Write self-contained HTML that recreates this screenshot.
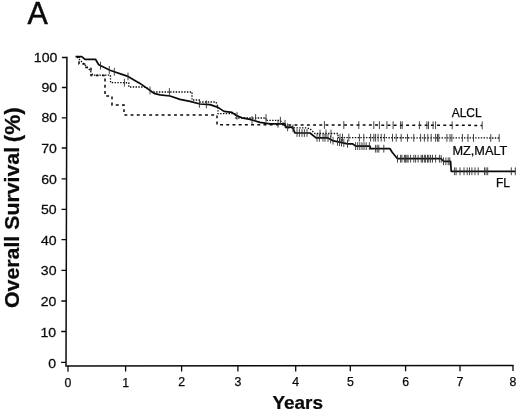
<!DOCTYPE html>
<html><head><meta charset="utf-8"><title>Overall Survival</title>
<style>html,body{margin:0;padding:0;background:#fff}body{width:520px;height:412px;overflow:hidden}</style></head>
<body>
<svg width="520" height="412" viewBox="0 0 520 412" style="display:block">
<rect width="520" height="412" fill="#fff"/>
<g font-family="Liberation Sans, Arial, Helvetica, sans-serif" fill="#0a0a0a" stroke="#0a0a0a" stroke-width="0.25">
<text transform="translate(37.6,24.1) scale(0.95,1)" font-size="32" text-anchor="middle" stroke-width="0.55">A</text>
<text transform="translate(57.3,61.8) scale(1.06,1)" font-size="13.3" text-anchor="end">100</text>
<text transform="translate(57.2,91.9) scale(1.06,1)" font-size="13.3" text-anchor="end">90</text>
<text transform="translate(57.1,122.3) scale(1.06,1)" font-size="13.3" text-anchor="end">80</text>
<text transform="translate(56.9,152.6) scale(1.06,1)" font-size="13.3" text-anchor="end">70</text>
<text transform="translate(56.8,183.5) scale(1.06,1)" font-size="13.3" text-anchor="end">60</text>
<text transform="translate(56.7,214.1) scale(1.06,1)" font-size="13.3" text-anchor="end">50</text>
<text transform="translate(56.6,244.5) scale(1.06,1)" font-size="13.3" text-anchor="end">40</text>
<text transform="translate(56.5,275.4) scale(1.06,1)" font-size="13.3" text-anchor="end">30</text>
<text transform="translate(56.3,306.2) scale(1.06,1)" font-size="13.3" text-anchor="end">20</text>
<text transform="translate(56.2,336.8) scale(1.06,1)" font-size="13.3" text-anchor="end">10</text>
<text transform="translate(56.1,367.7) scale(1.06,1)" font-size="13.3" text-anchor="end">0</text>
<text transform="translate(68.0,386.6) scale(1.0,1)" font-size="12.3" text-anchor="middle">0</text>
<text transform="translate(125.6,386.5) scale(1.0,1)" font-size="12.3" text-anchor="middle">1</text>
<text transform="translate(181.6,386.4) scale(1.0,1)" font-size="12.3" text-anchor="middle">2</text>
<text transform="translate(237.9,386.3) scale(1.0,1)" font-size="12.3" text-anchor="middle">3</text>
<text transform="translate(295.7,386.2) scale(1.0,1)" font-size="12.3" text-anchor="middle">4</text>
<text transform="translate(350.3,386.1) scale(1.0,1)" font-size="12.3" text-anchor="middle">5</text>
<text transform="translate(405.6,386.0) scale(1.0,1)" font-size="12.3" text-anchor="middle">6</text>
<text transform="translate(460.0,385.9) scale(1.0,1)" font-size="12.3" text-anchor="middle">7</text>
<text transform="translate(513.0,385.8) scale(1.0,1)" font-size="12.3" text-anchor="middle">8</text>
<text transform="translate(297.7,409) scale(1.045,1)" font-size="18.1" font-weight="bold" text-anchor="middle">Years</text>
<text transform="translate(19.3,308) rotate(-90) scale(1.035,1)" font-size="20.6" font-weight="bold">Overall Survival <tspan font-size="21.8" dx="-1.2" dy="0.8">(%)</tspan></text>
<text x="451.7" y="117" font-size="12">ALCL</text>
<text transform="translate(452.4,155) scale(1.045,1)" font-size="12.2">MZ,MALT</text>
<text x="496" y="187.3" font-size="12">FL</text>
</g>
<g stroke="#0a0a0a" fill="none">
<path d="M66.9 56.8L66 366L513.6 365.4" stroke-width="1.5"/>
<path d="M62.0 57.5H66.8M61.9 87.5H66.7M61.8 117.8H66.6M61.7 148.0H66.5M61.6 178.8H66.4M61.5 209.3H66.3M61.5 239.6H66.3M61.4 270.3H66.2M61.3 301.0H66.1M61.2 331.5H66.0M61.1 362.3H65.9M68.0 366.0v5.7M125.6 365.9v5.7M181.6 365.8v5.7M237.9 365.8v5.7M295.7 365.7v5.7M350.3 365.6v5.7M405.6 365.5v5.7M460.0 365.5v5.7M513.0 365.4v5.7" stroke-width="1.3"/>
<polyline points="77.0,57.0 79.0,57.0 79.0,64.0 86.0,64.0 86.0,67.5 91.0,67.5 91.0,75.5 105.0,75.5 105.0,96.0 112.0,96.0 112.0,105.0 124.0,105.0 124.0,115.0 217.0,115.0 217.0,124.7 482.2,125.4" stroke-width="1.5" stroke-dasharray="2.9 3.3"/>
<polyline points="77.0,57.0 80.0,60.0 83.0,63.0 86.0,66.0 89.0,69.0 91.0,72.0 93.0,75.2 110.5,75.2 110.5,82.5 128.8,82.8 128.8,87.0 146.0,87.0 152.0,92.0 192.0,92.0 192.0,100.0 200.0,100.0 200.0,102.0 216.0,102.0 218.0,107.0 218.0,113.6 236.0,113.6 236.0,118.0 266.0,118.0 266.0,120.4 280.0,120.4 284.0,124.0 286.0,127.8 306.0,127.8 310.0,128.8 315.0,133.5 338.0,133.5 338.0,137.6 499.2,138.0" stroke-width="1.3" stroke-dasharray="1.4 1.4"/>
<polyline points="75.5,56.6 81.7,56.6 85.0,59.3 95.5,59.3 98.7,64.8 103.4,67.1 110.0,70.2 115.0,72.0 122.0,74.4 128.0,76.4 140.0,83.4 150.0,90.4 154.0,93.4 160.0,94.8 170.0,96.0 180.0,99.4 190.0,101.4 200.0,104.0 210.0,104.6 218.0,107.4 224.0,111.4 232.0,112.4 236.0,115.4 242.0,117.8 250.0,119.4 260.0,122.4 270.0,123.8 285.0,123.8 286.0,127.2 292.5,127.2 295.0,133.0 310.0,133.0 316.0,137.8 327.5,137.8 332.5,140.6 335.0,141.2 347.5,143.8 352.5,143.8 355.6,146.1 370.0,146.1 370.5,148.7 390.0,148.7 392.0,152.0 397.5,158.7 441.2,158.7 443.5,161.3 450.6,161.3 451.2,171.3 515.3,171.3" stroke-width="1.7" stroke-linejoin="round"/>
<path d="M100.5 61.8V69.6M109.3 66.0V73.8M114.3 67.9V75.7M128.0 72.5V80.3M150.0 86.5V94.3M199.4 99.9V107.7M206.4 100.5V108.3M237.0 111.9V119.7M252.0 116.1V123.9M278.0 119.9V127.7M285.0 119.9V127.7M287.6 123.3V131.2M293.0 124.5V132.3M297.0 129.1V136.9M299.4 129.1V136.9M302.0 129.1V136.9M304.4 129.1V136.9M307.0 129.1V136.9M317.0 133.8V141.7M319.4 133.8V141.7M323.0 133.8V141.7M325.0 133.8V141.7M328.0 134.1V141.9M330.6 135.6V143.4M333.0 136.8V144.6M337.5 137.8V145.7M339.5 138.2V146.1M341.5 138.7V146.5M343.8 139.1V146.9M347.5 139.8V147.7M355.6 142.2V150.0M357.7 142.2V150.0M359.8 142.2V150.0M362.0 142.2V150.0M364.0 142.2V150.0M366.2 142.2V150.0M369.4 142.2V150.0M375.6 144.8V152.6M377.2 144.8V152.6M378.8 144.8V152.6M383.8 144.8V152.6M397.5 154.8V162.6M400.6 154.8V162.6M401.9 154.8V162.6M404.4 154.8V162.6M405.6 154.8V162.6M406.9 154.8V162.6M408.1 154.8V162.6M410.6 154.8V162.6M413.8 154.8V162.6M415.6 154.8V162.6M418.1 154.8V162.6M421.2 154.8V162.6M422.5 154.8V162.6M424.4 154.8V162.6M425.6 154.8V162.6M427.5 154.8V162.6M428.8 154.8V162.6M430.6 154.8V162.6M432.5 154.8V162.6M435.6 154.8V162.6M439.4 154.8V162.6M441.2 154.9V162.7M443.5 157.4V165.2M445.9 157.4V165.2M448.2 157.4V165.2M449.8 157.4V165.2M454.6 167.4V175.2M456.1 167.4V175.2M460.0 167.4V175.2M464.0 167.4V175.2M467.2 167.4V175.2M469.5 167.4V175.2M471.9 167.4V175.2M475.0 167.4V175.2M478.2 167.4V175.2M484.5 167.4V175.2M486.1 167.4V175.2M487.7 167.4V175.2M511.3 167.4V175.2M515.3 167.4V175.2" stroke-width="0.9" stroke="#303030"/>
<path d="M124.4 78.8V86.6M169.4 88.1V95.9M255.6 114.1V121.9M266.0 114.1V121.9M280.4 116.9V124.7M320.0 129.6V137.4M326.0 129.6V137.4M331.0 129.6V137.4M340.0 133.7V141.5M342.5 133.7V141.5M348.8 133.7V141.5M359.4 133.8V141.6M363.8 133.8V141.6M370.6 133.8V141.6M373.8 133.8V141.6M375.6 133.8V141.6M378.1 133.8V141.6M381.2 133.8V141.6M384.4 133.8V141.6M392.5 133.8V141.6M396.2 133.8V141.6M401.2 133.9V141.7M407.5 133.9V141.7M413.8 133.9V141.7M420.6 133.9V141.7M424.4 133.9V141.7M427.8 133.9V141.7M431.2 133.9V141.7M435.6 133.9V141.7M437.5 133.9V141.7M438.8 133.9V141.8M446.9 134.0V141.8M450.0 134.0V141.8M451.9 134.0V141.8M462.4 134.0V141.8M468.0 134.0V141.8M473.5 134.0V141.8M490.8 134.1V141.9M499.2 134.1V141.9" stroke-width="0.9" stroke="#303030"/>
<path d="M324.4 121.1V128.9M343.8 121.1V128.9M358.8 121.2V129.0M373.8 121.2V129.0M379.4 121.2V129.0M386.9 121.2V129.0M393.1 121.3V129.1M400.6 121.3V129.1M402.2 121.3V129.1M419.4 121.3V129.1M426.9 121.4V129.2M428.5 121.4V129.2M433.1 121.4V129.2M435.6 121.4V129.2M452.2 121.4V129.2M482.2 121.5V129.3" stroke-width="0.9" stroke="#303030"/>
</g>
</svg>
</body></html>
